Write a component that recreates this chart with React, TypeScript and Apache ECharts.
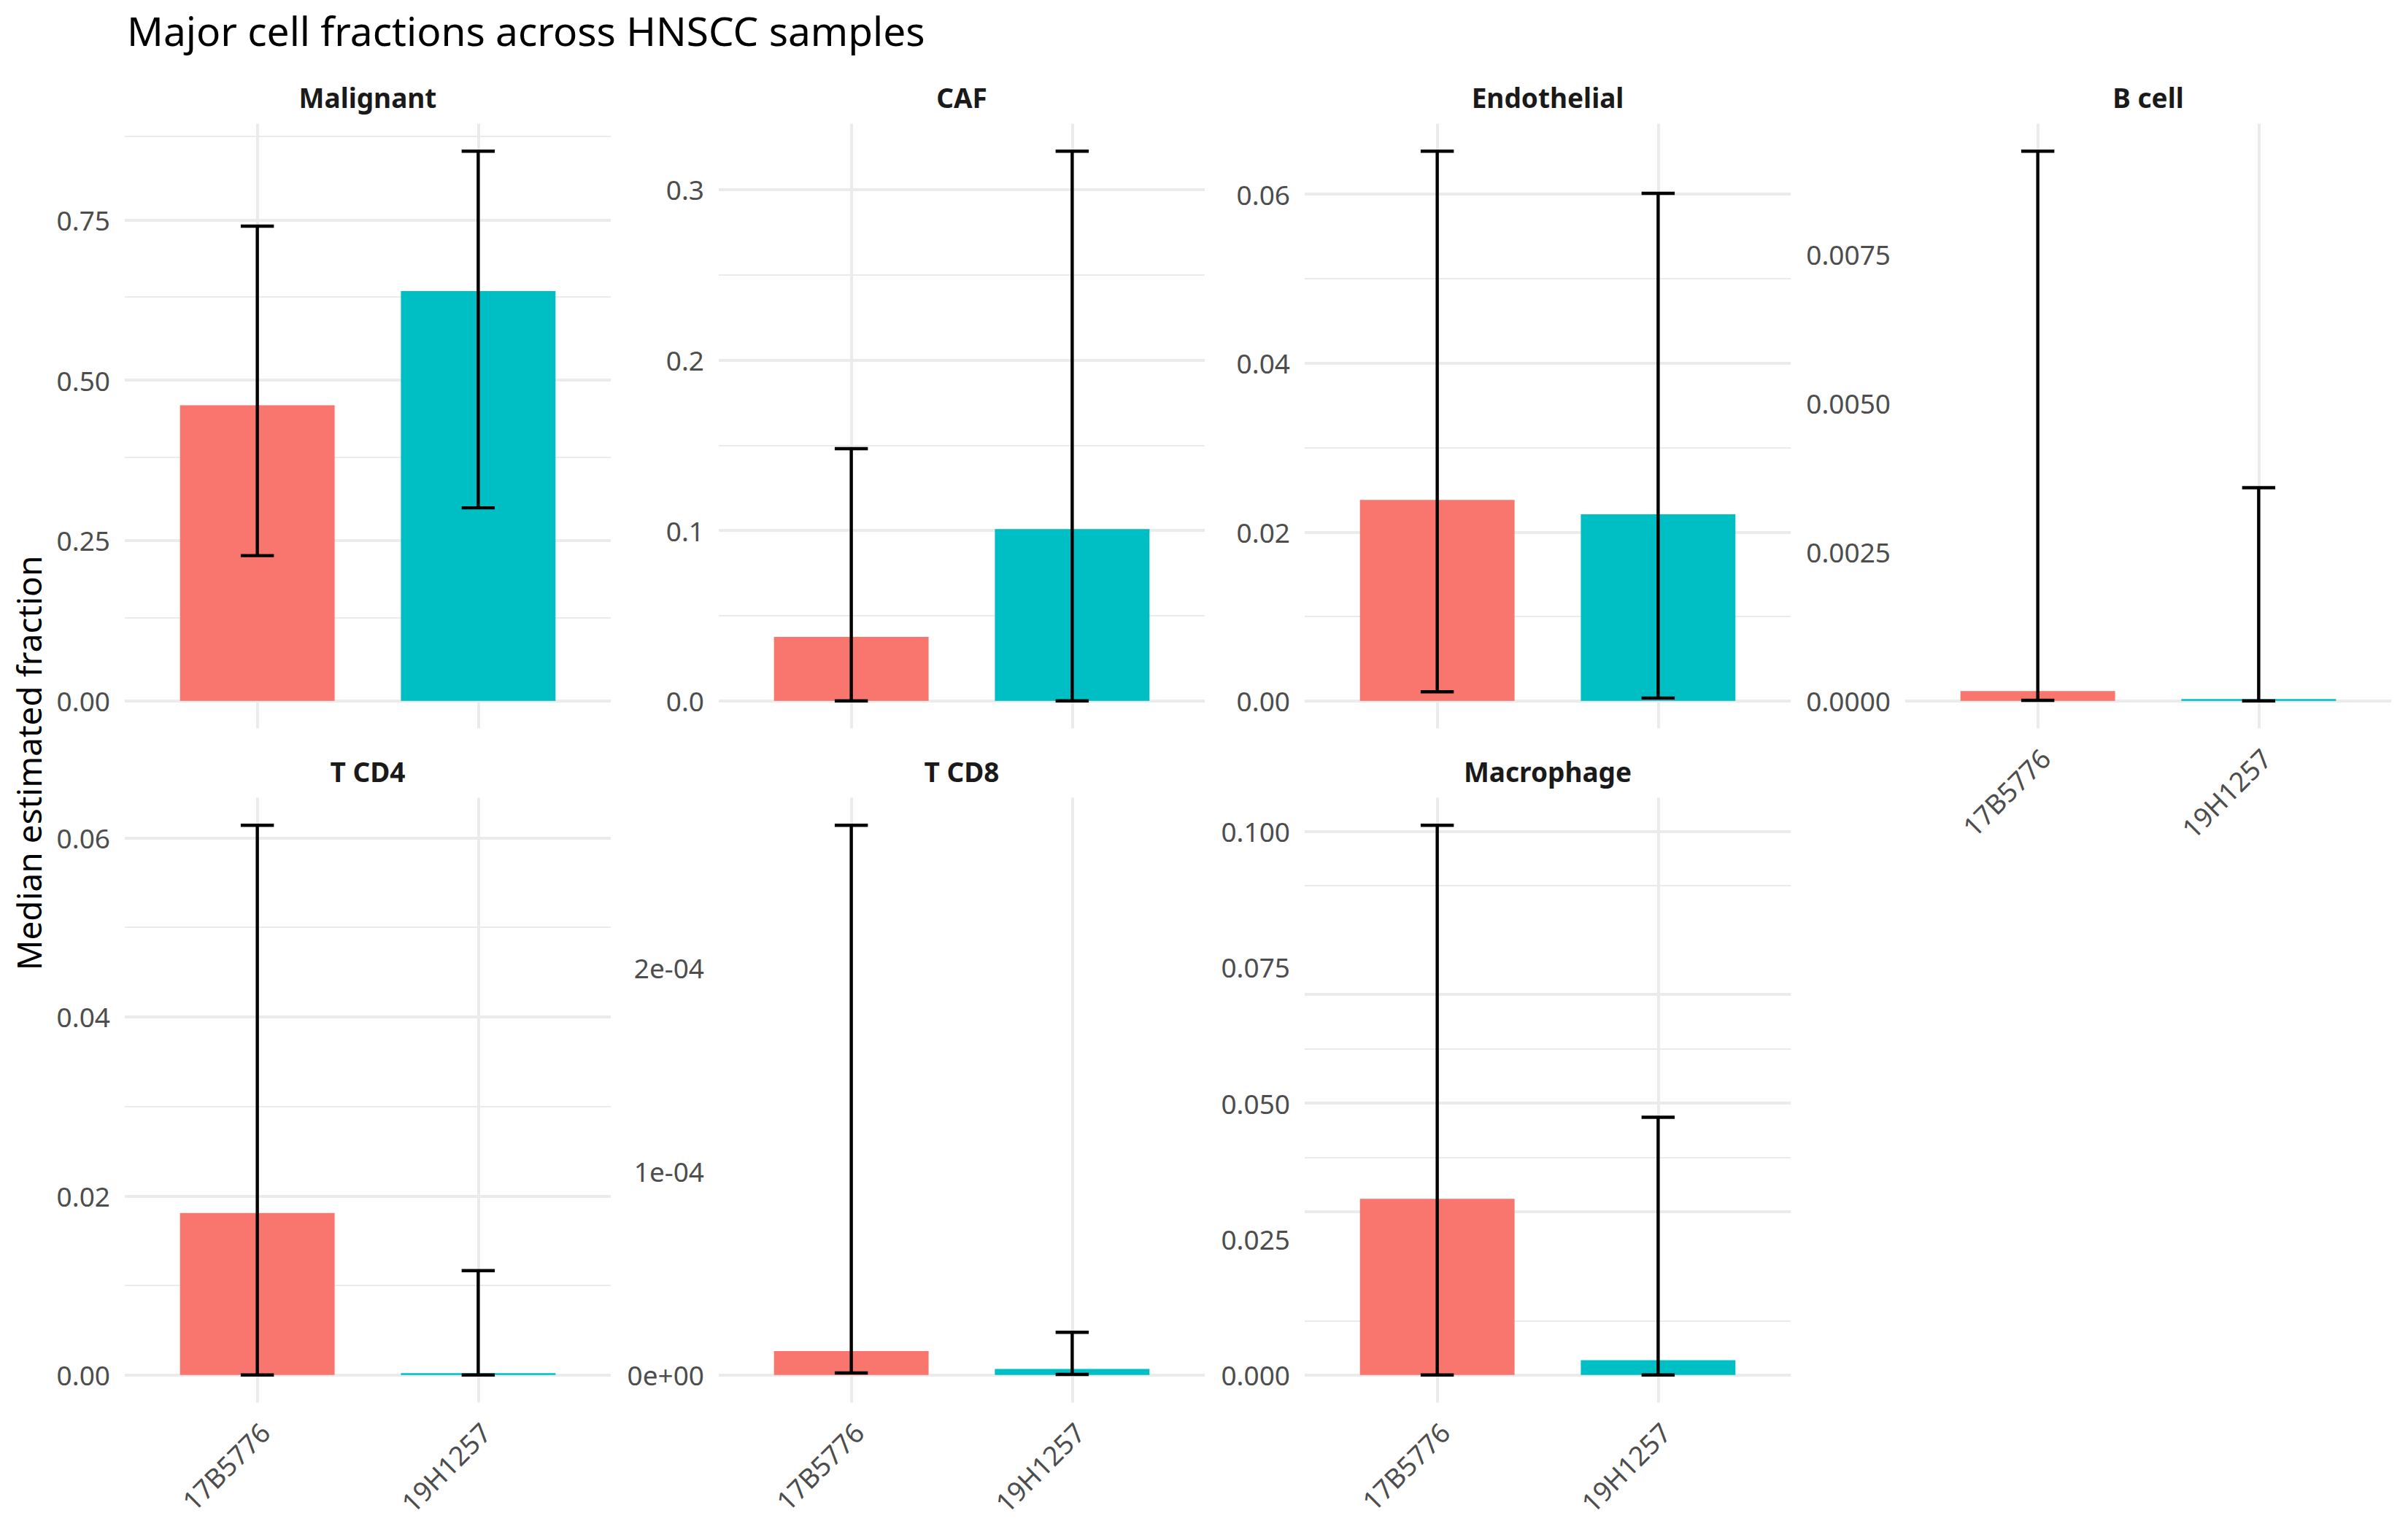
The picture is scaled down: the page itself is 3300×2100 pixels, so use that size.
import React, { useEffect, useRef } from 'react';
import * as echarts from 'echarts';

// facet order, left to right, top to bottom
const cellTypes = ['Malignant', 'CAF', 'Endothelial', 'B cell', 'T CD4', 'T CD8', 'Macrophage'];
const samples = ['17B5776', '19H1257'];
const sampleColors = ['#F8766D', '#00BFC4'];

// median estimated fraction per sample
const median17B = [0.461, 0.0376, 0.0238, 0.000165, 0.0181, 1.18e-5, 0.0324];
const median19H = [0.639, 0.1008, 0.0221, 0.00003, 0.0002, 3.0e-6, 0.00273];

// error bar limits
const lower17B = [0.2265, 0, 0.00109, 0.00001, 0, 1.0e-6, 0];
const upper17B = [0.74, 0.148, 0.0651, 0.00923, 0.0614, 2.7e-4, 0.1011];
const lower19H = [0.301, 0, 0.00034, 0, 0, 0.3e-6, 0];
const upper19H = [0.857, 0.3226, 0.0601, 0.00358, 0.01166, 2.1e-5, 0.0474];

// y breaks per facet
const tickValues = [
  [0, 0.25, 0.5, 0.75],
  [0, 0.1, 0.2, 0.3],
  [0, 0.02, 0.04, 0.06],
  [0, 0.0025, 0.005, 0.0075],
  [0, 0.02, 0.04, 0.06],
  [0, 1e-4, 2e-4],
  [0, 0.025, 0.05, 0.075, 0.1],
];
const tickLabels = [
  ['0.00', '0.25', '0.50', '0.75'],
  ['0.0', '0.1', '0.2', '0.3'],
  ['0.00', '0.02', '0.04', '0.06'],
  ['0.0000', '0.0025', '0.0050', '0.0075'],
  ['0.00', '0.02', '0.04', '0.06'],
  ['0e+00', '1e-04', '2e-04'],
  ['0.000', '0.025', '0.050', '0.075', '0.100'],
];

const FONT = 'Noto Sans';
const GRID_COLOR = '#EBEBEB';
const COL_LEFT = [171, 985, 1788, 2611];
const ROW_TOP = [169.5, 1093.5];
const PANEL_W = 666;
const PANEL_H = 829;
const BAR_HALF = 0.35;
const CAP_HALF = 0.075;
// rotated sample labels sit a little right of the tick (hjust = 1 look)
const LABEL_NUDGE = 10 / (PANEL_W / 2.2);

const App: React.FC = () => {
  const chartRef = useRef<HTMLDivElement>(null);

  useEffect(() => {
    if (!chartRef.current) return;
    const chart = echarts.init(chartRef.current, null, { renderer: 'svg' });

    const grids: any[] = [];
    const xAxes: any[] = [];
    const yAxes: any[] = [];
    const series: any[] = [];
    const graphics: any[] = [];

    cellTypes.forEach((name, i) => {
      const col = i % 4;
      const row = Math.floor(i / 4);
      const left = COL_LEFT[col];
      const top = ROW_TOP[row];
      const showX = row === 1 || i === 3;

      const top5 = Math.max(upper17B[i], upper19H[i]);
      const yMin = -0.05 * top5;
      const yMax = 1.05 * top5;

      const majors = tickValues[i];
      const step = majors[1] - majors[0];
      const minors: number[] = [];
      for (let k = -1; k < majors.length; k++) {
        const m = majors[0] + (k + 0.5) * step;
        if (m > yMin && m < yMax) minors.push(m);
      }

      grids.push({ left, top, width: PANEL_W, height: PANEL_H });

      xAxes.push({
        type: 'value',
        gridIndex: i,
        min: 0.4,
        max: 2.6,
        axisLine: { show: false },
        axisTick: { show: false },
        splitLine: { show: false },
        axisLabel: {
          show: showX,
          customValues: samples.map((_, k) => k + 1 + LABEL_NUDGE),
          formatter: (v: number) => samples[Math.round(v) - 1] ?? '',
          rotate: 45,
          margin: 34,
          color: '#4D4D4D',
          fontFamily: FONT,
          fontSize: 37,
        },
      });

      yAxes.push({
        type: 'value',
        gridIndex: i,
        min: yMin,
        max: yMax,
        axisLine: { show: false },
        axisTick: { show: false },
        splitLine: { show: false },
        axisLabel: {
          customValues: majors,
          formatter: (v: number) => {
            let best = 0;
            majors.forEach((m, k) => {
              if (Math.abs(m - v) < Math.abs(majors[best] - v)) best = k;
            });
            return tickLabels[i][best];
          },
          margin: 20,
          color: '#4D4D4D',
          fontFamily: FONT,
          fontSize: 37,
        },
      });

      const gridLines: any[] = [
        ...minors.map((v) => ({ yAxis: v, lineStyle: { color: GRID_COLOR, width: 2, type: 'solid' } })),
        ...majors.map((v) => ({ yAxis: v, lineStyle: { color: GRID_COLOR, width: 4, type: 'solid' } })),
        { xAxis: 1, lineStyle: { color: GRID_COLOR, width: 4, type: 'solid' } },
        { xAxis: 2, lineStyle: { color: GRID_COLOR, width: 4, type: 'solid' } },
      ];

      series.push({
        type: 'custom',
        name: name + ' median',
        xAxisIndex: i,
        yAxisIndex: i,
        silent: true,
        z: 2,
        encode: { x: 0, y: 1 },
        data: [
          [1, median17B[i]],
          [2, median19H[i]],
        ],
        renderItem: (params: any, api: any) => {
          const x = api.value(0);
          const v = api.value(1);
          const p1 = api.coord([x - BAR_HALF, v]);
          const p0 = api.coord([x + BAR_HALF, 0]);
          return {
            type: 'rect',
            shape: { x: p1[0], y: p1[1], width: p0[0] - p1[0], height: p0[1] - p1[1] },
            style: { fill: sampleColors[params.dataIndex] },
          };
        },
        markLine: {
          silent: true,
          z: 1,
          symbol: ['none', 'none'],
          label: { show: false },
          emphasis: { disabled: true },
          data: gridLines,
        },
      });

      series.push({
        type: 'custom',
        name: name + ' range',
        xAxisIndex: i,
        yAxisIndex: i,
        silent: true,
        z: 3,
        encode: { x: 0, y: [1, 2] },
        data: [
          [1, lower17B[i], upper17B[i]],
          [2, lower19H[i], upper19H[i]],
        ],
        renderItem: (params: any, api: any) => {
          const x = api.value(0);
          const lo = api.value(1);
          const hi = api.value(2);
          const a = api.coord([x, lo]);
          const b = api.coord([x, hi]);
          const capL = api.coord([x - CAP_HALF, hi]);
          const capR = api.coord([x + CAP_HALF, hi]);
          const capL2 = api.coord([x - CAP_HALF, lo]);
          const capR2 = api.coord([x + CAP_HALF, lo]);
          const style = { stroke: '#000000', lineWidth: 4.4 };
          return {
            type: 'group',
            children: [
              { type: 'line', shape: { x1: a[0], y1: a[1], x2: b[0], y2: b[1] }, style },
              { type: 'line', shape: { x1: capL[0], y1: capL[1], x2: capR[0], y2: capR[1] }, style },
              { type: 'line', shape: { x1: capL2[0], y1: capL2[1], x2: capR2[0], y2: capR2[1] }, style },
            ],
          };
        },
      });

      graphics.push({
        type: 'text',
        x: left + PANEL_W / 2,
        y: row === 0 ? 133 : 1057,
        style: {
          text: name,
          fill: '#1A1A1A',
          font: `bold 37px "${FONT}"`,
          textAlign: 'center',
          textVerticalAlign: 'middle',
        },
      });
    });

    graphics.push({
      type: 'text',
      x: 174,
      y: 41,
      style: {
        text: 'Major cell fractions across HNSCC samples',
        fill: '#000000',
        font: `55px "${FONT}"`,
        textAlign: 'left',
        textVerticalAlign: 'middle',
      },
    });

    graphics.push({
      type: 'text',
      x: 39,
      y: 1046,
      rotation: Math.PI / 2,
      style: {
        text: 'Median estimated fraction',
        fill: '#000000',
        font: `46px "${FONT}"`,
        textAlign: 'center',
        textVerticalAlign: 'middle',
      },
    });

    chart.setOption({
      animation: false,
      backgroundColor: '#FFFFFF',
      grid: grids,
      xAxis: xAxes,
      yAxis: yAxes,
      series,
      graphic: graphics,
    });

    const handleResize = () => chart.resize();
    window.addEventListener('resize', handleResize);
    return () => {
      window.removeEventListener('resize', handleResize);
      chart.dispose();
    };
  }, []);

  return (
    <div
      ref={chartRef}
      style={{ position: 'fixed', left: 0, top: 0, width: 3300, height: 2100 }}
    />
  );
};

export default App;
